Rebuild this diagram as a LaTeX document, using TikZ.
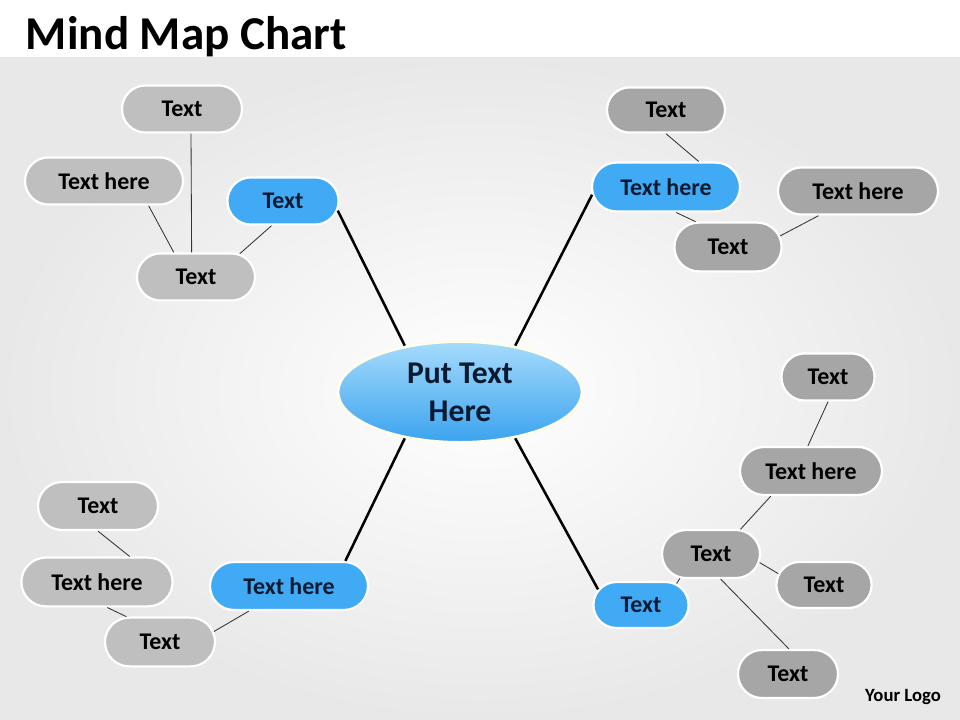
\documentclass[tikz,border=0pt]{standalone}
\usepackage{fontspec}
\setmainfont{Carlito}
\usetikzlibrary{shapes.geometric,shapes.misc,shadows}

\definecolor{leafgrayL}{HTML}{BFBFBF}
\definecolor{leafgrayR}{HTML}{A6A6A6}
\definecolor{branchblue}{HTML}{40AAF5}
\definecolor{inkblue}{HTML}{0B1A30}
\definecolor{hubtop}{HTML}{A6DBFC}
\definecolor{hubbot}{HTML}{3BA3EE}

\tikzset{
	pill/.style={rounded rectangle, draw=white, line width=1.6pt, inner sep=0pt,
		minimum height=1.18cm, font=\fontsize{17}{17}\selectfont\bfseries,
		drop shadow={opacity=.25, shadow xshift=.5pt, shadow yshift=-.6pt}},
	leafL/.style={pill, fill=leafgrayL},
	leafR/.style={pill, fill=leafgrayR},
	branch/.style={pill, fill=branchblue, text=inkblue},
	twig/.style={draw=black!80, line width=.6pt},
	limb/.style={draw=black, line width=1.8pt},
}

\begin{document}
\begin{tikzpicture}[x=0.025cm, y=-0.025cm]
	\useasboundingbox (0,0) rectangle (960,720);
	\fill [white] (0,0) rectangle (960,58);
	\shade [inner color=white, outer color=black!9] (0,58) rectangle (960,720);
	
	% 标题
	\node [anchor=base west, font=\fontsize{33.5}{33.5}\selectfont\bfseries] (title) at (21,50) {Mind Map Chart};
	
	% 中心
	\node [ellipse, minimum width=6.1cm, minimum height=2.52cm, inner sep=0pt,
		top color=hubtop, bottom color=hubbot, draw=white!92!yellow, line width=2pt,
		drop shadow={opacity=.25, shadow xshift=.5pt, shadow yshift=-.8pt},
		align=center, text=inkblue, font=\fontsize{22.5}{27}\selectfont\bfseries] (hub) at (460,392) {Put Text\\Here};
	
	% 左上
	\node [leafL, minimum width=3cm] (L1) at (182,109) {Text};
	\node [leafL, minimum width=3.95cm] (L2) at (104,181) {Text here};
	\node [leafL, minimum width=2.95cm] (L3) at (196,277) {Text};
	\node [branch, minimum width=2.78cm] (B1) at (283,201) {Text};
	
	\draw [twig] (L1.-70) -- (L3.100);
	\draw [twig] (L2.-29) -- (L3.132);
	\draw [twig] (B1.-115) -- (L3.28);
	\draw [limb] (hub.140) -- (B1.-10);
	
	% 右上
	\node [leafR, minimum width=2.95cm, minimum height=1.13cm] (R1) at (666,110) {Text};
	\node [branch, minimum width=3.7cm, minimum height=1.22cm] (B2) at (666,187) {Text here};
	\node [leafR, minimum width=4cm] (R2) at (858,191) {Text here};
	\node [leafR, minimum width=2.68cm, minimum height=1.22cm] (R3) at (728,247) {Text};
	
	\draw [twig] (R1.south) -- (B2.38);
	\draw [twig] (B2.-68) -- (R3.142);
	\draw [twig] (R3.12) -- (R2.-148);
	\draw [limb] (hub.40) -- (B2.186);
	
	% 右下
	\node [leafR, minimum width=2.33cm] (R4) at (828,377) {Text};
	\node [leafR, minimum width=3.55cm, minimum height=1.2cm] (R5) at (811,471) {Text here};
	\node [leafR, minimum width=2.45cm, minimum height=1.2cm] (R6) at (711,554) {Text};
	\node [leafR, minimum width=2.38cm, minimum height=1.15cm] (R7) at (824,585) {Text};
	\node [branch, minimum width=2.38cm, minimum height=1.15cm] (B3) at (641,605) {Text};
	\node [leafR, minimum width=2.5cm, minimum height=1.2cm] (R8) at (788,674) {Text};
	
	\draw [twig] (R4.south) -- (R5.97);
	\draw [twig] (R5.-148) -- (R6.40);
	\draw [twig] (R6.-10) -- (R7.166);
	\draw [twig] (R6.-69) -- (R8.88);
	\draw [twig] (R6.-142) -- (B3.31);
	\draw [limb] (hub.-40) -- (B3.160);
	
	% 左下
	\node [leafL, minimum width=3cm, minimum height=1.2cm] (L4) at (98,506) {Text};
	\node [leafL, minimum width=3.78cm, minimum height=1.22cm] (L5) at (97,582) {Text here};
	\node [leafL, minimum width=2.75cm, minimum height=1.22cm] (L6) at (160,642) {Text};
	\node [branch, minimum width=3.95cm, minimum height=1.2cm] (B4) at (289,586) {Text here};
	
	\draw [twig] (L4.south) -- (L5.38);
	\draw [twig] (L5.-68) -- (L6.143);
	\draw [twig] (L6.11) -- (B4.-148);
	\draw [limb] (hub.-140) -- (B4.24);
	
	\node [font=\fontsize{13.3}{13.3}\selectfont\bfseries] (logo) at (903,697) {Your Logo};
\end{tikzpicture}
\end{document}
